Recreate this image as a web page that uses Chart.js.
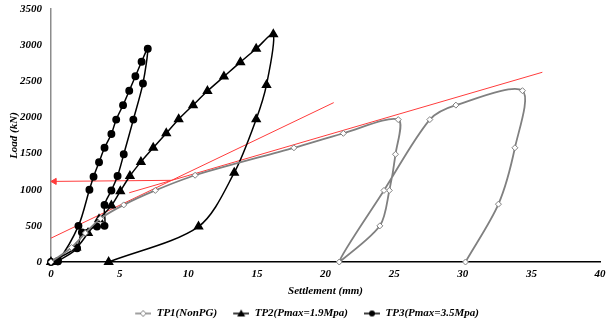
<!DOCTYPE html>
<html>
<head>
<meta charset="utf-8">
<script src="https://cdn.jsdelivr.net/npm/chart.js@4.4.0/dist/chart.umd.min.js"></script>
<style>
  html, body { margin: 0; padding: 0; background: #fff; overflow: hidden; }
  #wrap { width: 606px; height: 329px; position: relative; }
</style>
</head>
<body>
<div id="wrap"><canvas id="loadChart"></canvas></div>
<script>
// ===== DONNEES =====
const seriesNames = ['TP1(NonPG)', 'TP2(Pmax=1.9Mpa)', 'TP3(Pmax=3.5Mpa)'];

// TP1 - settlement (mm) / load (kN)
const tp1Settlement = [0, 1.5, 2.5, 3.6, 5.3, 7.6, 10.5, 17.7, 21.3, 25.3, 25.1, 24.65, 23.96, 21.0, 24.26, 27.6, 29.5, 34.35, 33.8, 32.6, 30.2];
const tp1Load       = [0, 200, 400, 600, 790, 990, 1200, 1580, 1780, 1970, 1490, 990, 500, 0, 990, 1970, 2170, 2370, 1580, 800, 0];

// TP2
const tp2Settlement = [0, 1.85, 2.7, 3.5, 4.4, 5.05, 5.75, 6.55, 7.45, 8.4, 9.3, 10.35, 11.4, 12.6, 13.8, 14.95, 16.2, 15.7, 14.95, 13.35, 10.75, 4.2];
const tp2Load       = [0, 200, 400, 590, 780, 980, 1190, 1385, 1580, 1780, 1975, 2170, 2365, 2565, 2765, 2950, 3150, 2450, 1975, 1235, 490, 0];

// TP3
const tp3Settlement = [0, 0.5, 2.0, 2.8, 3.1, 3.5, 3.9, 4.4, 4.75, 5.25, 5.7, 6.15, 6.6, 7.05, 6.7, 6.0, 5.3, 4.85, 4.4, 3.9, 3.9, 3.35, 2.25, 1.9, 0.5];
const tp3Load       = [0, 10, 500, 1000, 1180, 1380, 1580, 1770, 1970, 2170, 2370, 2570, 2770, 2950, 2470, 1970, 1490, 1190, 990, 790, 500, 490, 410, 190, 10];

// Tangentes (rouge) et fleche
const tangentASettlement = [0, 20.6];
const tangentALoad       = [330, 2205];
const tangentBSettlement = [5.7, 35.8];
const tangentBLoad       = [958, 2625];
const arrowSettlement    = [8.8, 0.25];
const arrowLoad          = [1130, 1115];

// Axes
const xTicks = [0, 5, 10, 15, 20, 25, 30, 35, 40];
const yTicks = [0, 500, 1000, 1500, 2000, 2500, 3000, 3500];

function toPoints(xs, ys) {
  return xs.map(function(x, i) { return { x: x, y: ys[i] }; });
}

const FONT = "'Liberation Serif', 'Times New Roman', serif";
const colors = {
  gray: '#808080',
  black: '#000000',
  red: '#ff3c3c'
};

// petite icone ligne + marqueur pour la legende
function legendIcon(style, color, fill) {
  const c = document.createElement('canvas');
  c.width = 24; c.height = 12;
  const g = c.getContext('2d');
  g.strokeStyle = color;
  g.lineWidth = 1.5;
  g.beginPath(); g.moveTo(8, 6); g.lineTo(24, 6); g.stroke();
  g.fillStyle = fill;
  g.beginPath();
  if (style === 'triangle') {
    g.moveTo(16, 2); g.lineTo(20, 9); g.lineTo(12, 9); g.closePath();
    g.fill();
  } else if (style === 'circle') {
    g.arc(16, 6, 3, 0, Math.PI * 2); g.fill();
  } else {
    g.moveTo(16, 3); g.lineTo(19, 6); g.lineTo(16, 9); g.lineTo(13, 6); g.closePath();
    g.fill(); g.lineWidth = 1; g.stroke();
  }
  return c;
}
const legendIcons = [
  legendIcon('rectRot', colors.gray, '#fff'),
  legendIcon('triangle', colors.black, colors.black),
  legendIcon('circle', colors.black, colors.black)
];

const ctx = document.getElementById('loadChart');
new Chart(ctx, {
  type: 'scatter',
  data: {
    datasets: [
      {
        label: seriesNames[0],
        data: toPoints(tp1Settlement, tp1Load),
        showLine: true,
        borderColor: colors.gray,
        borderWidth: 1.8,
        tension: 0.3,
        pointStyle: 'rectRot',
        pointRadius: 3,
        pointBorderWidth: 1,
        pointBackgroundColor: '#fff',
        pointBorderColor: colors.gray,
        clip: false
      },
      {
        label: seriesNames[1],
        data: toPoints(tp2Settlement, tp2Load),
        showLine: true,
        borderColor: colors.black,
        borderWidth: 1.5,
        tension: 0.3,
        pointStyle: 'triangle',
        pointRadius: 4.5,
        pointBackgroundColor: colors.black,
        pointBorderColor: colors.black,
        clip: false
      },
      {
        label: seriesNames[2],
        data: toPoints(tp3Settlement, tp3Load),
        showLine: true,
        borderColor: colors.black,
        borderWidth: 1.5,
        tension: 0.3,
        pointStyle: 'circle',
        pointRadius: 3.2,
        pointBackgroundColor: colors.black,
        pointBorderColor: colors.black,
        clip: false
      },
      {
        label: 'tangentA',
        data: toPoints(tangentASettlement, tangentALoad),
        showLine: true,
        borderColor: colors.red,
        borderWidth: 1,
        pointRadius: 0,
        clip: false
      },
      {
        label: 'tangentB',
        data: toPoints(tangentBSettlement, tangentBLoad),
        showLine: true,
        borderColor: colors.red,
        borderWidth: 1,
        pointRadius: 0,
        clip: false
      },
      {
        label: 'arrow',
        data: toPoints(arrowSettlement, arrowLoad),
        showLine: true,
        borderColor: colors.red,
        borderWidth: 1,
        pointStyle: 'triangle',
        pointRotation: 270,
        pointRadius: [0, 3.5],
        pointBackgroundColor: colors.red,
        pointBorderColor: colors.red,
        clip: false
      }
    ]
  },
  options: {
    responsive: true,
    maintainAspectRatio: false,
    animation: false,
    layout: {
      padding: { top: 0, right: 0, bottom: 0, left: 0 }
    },
    plugins: {
      tooltip: { enabled: false },
      legend: {
        display: true,
        position: 'bottom',
        labels: {
          usePointStyle: true,
          pointStyleWidth: 24,
          padding: 8,
          color: '#000',
          font: { family: FONT, size: 11, weight: 'bold', style: 'italic' },
          filter: function(item) { return item.datasetIndex < 3; },
          generateLabels: function(chart) {
            return chart.data.datasets.slice(0, 3).map(function(ds, i) {
              return {
                text: ds.label,
                pointStyle: legendIcons[i],
                fillStyle: 'transparent',
                strokeStyle: 'transparent',
                lineWidth: 0,
                hidden: false,
                datasetIndex: i
              };
            });
          }
        }
      }
    },
    scales: {
      x: {
        type: 'linear',
        min: 0,
        max: 40,
        afterBuildTicks: function(axis) {
          axis.ticks = xTicks.map(function(v) { return { value: v }; });
        },
        afterFit: function(scale) {
          scale.height = 38;
          scale.paddingLeft = 0;
          scale.paddingRight = 6;
        },
        grid: { display: false, drawTicks: false },
        border: { display: true, color: '#000', width: 1.5 },
        ticks: {
          padding: 6,
          color: '#000',
          font: { family: FONT, size: 11, weight: 'bold', style: 'italic' },
          callback: function(v) { return String(v); }
        },
        title: {
          display: true,
          text: 'Settlement (mm)',
          color: '#000',
          padding: { top: 2, bottom: 2 },
          font: { family: FONT, size: 11, weight: 'bold', style: 'italic' }
        }
      },
      y: {
        type: 'linear',
        min: 0,
        max: 3500,
        afterBuildTicks: function(axis) {
          axis.ticks = yTicks.map(function(v) { return { value: v }; });
        },
        afterFit: function(scale) {
          scale.width = 51;
          scale.paddingTop = 9;
          scale.paddingBottom = 0;
        },
        grid: { display: false, drawTicks: false },
        border: { display: true, color: '#8c8c8c', width: 1.5 },
        ticks: {
          padding: 9,
          color: '#000',
          font: { family: FONT, size: 11, weight: 'bold', style: 'italic' },
          callback: function(v) { return String(v); }
        },
        title: {
          display: true,
          text: 'Load (kN)',
          color: '#000',
          padding: { top: 8, bottom: 0 },
          font: { family: FONT, size: 11, weight: 'bold', style: 'italic' }
        }
      }
    }
  }
});
</script>
</body>
</html>
